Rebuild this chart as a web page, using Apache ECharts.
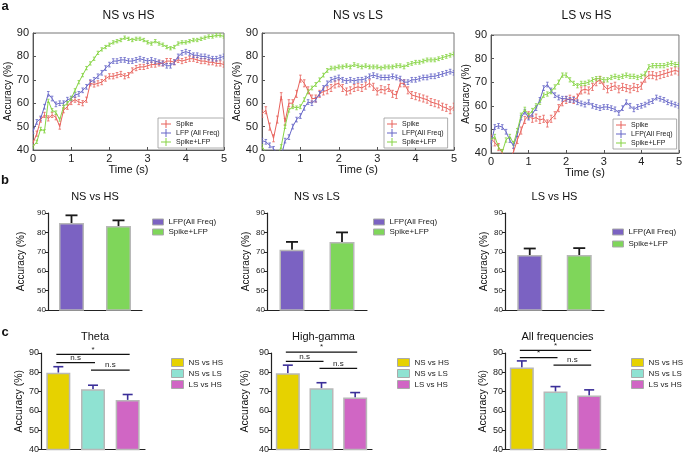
<!DOCTYPE html>
<html>
<head>
<meta charset="utf-8">
<script src="https://cdn.jsdelivr.net/npm/echarts@6/dist/echarts.min.js"></script>
<style>html,body{margin:0;padding:0;background:#fff}#main{width:685px;height:454px}</style>
</head>
<body>
<div id="main"></div>
<script>
// time axis (s)
var timeS = [0,0.1,0.2,0.3,0.4,0.5,0.6,0.7,0.8,0.9,
  1,1.1,1.2,1.3,1.4,1.5,1.6,1.7,1.8,1.9,
  2,2.1,2.2,2.3,2.4,2.5,2.6,2.7,2.8,2.9,
  3,3.1,3.2,3.3,3.4,3.5,3.6,3.7,3.8,3.9,
  4,4.1,4.2,4.3,4.4,4.5,4.6,4.7,4.8,4.9,5];

// a: NS vs HS
var a1Spike = [43,47,53,55,53.5,55,54,50,57,58.5,
  60.5,61.5,60.5,60,61.5,68.5,68,68.5,69,70.5,
  71.5,71.5,72,72.5,71.5,72,74,75,75.5,75.5,
  76,76.5,76.5,77,77,78,78,77.5,78.5,78,
  78.5,79,79,78.5,78,78,77.5,77.5,77,77,76.5];
var a1Lfp = [48,52,53.5,58.5,64,62,59.5,60,60,61.5,
  62,63.5,64,65.5,67,69,70,71.5,73,75,
  76.5,78,78,78.5,78.5,78,78,78.5,79,78.5,
  78,78.5,78,77.5,77,76,76,77.5,80,81.5,
  82,81.5,80.5,80.5,80,80,79.5,79,79,79.5,80];
var a1Combo = [41.5,43.5,49,48,61,57,56,53,58.5,60,
  62,65.5,69,72,75,77,79,81.5,83,84,
  85,86,86.5,87,88,87.5,87,87.5,87.5,87,
  86,85.5,86.5,85.5,85,84,83.5,84,85.5,86,
  86,86.5,87,87,87.5,88,88.5,88.5,89,89,88.5];
// a: NS vs LS
var a2Spike = [55.5,57,50,45,53,63,52,60,60,64,
  70.5,68.5,65.5,62,62,64,65,65.5,66.5,68,
  68.5,66.5,65,65.5,66.5,67,66.5,67.5,68.5,67,
  65,66,65.5,66.5,64,63.5,68.5,68.5,65.5,63.5,
  63,62.5,62,61.5,60.5,60,59.5,58.5,58,57,58.5];
var a2Lfp = [44,43.5,42,40.5,38.5,37,44,45.5,50,53,
  54.5,58,60.5,60,61.5,64,66.5,68.5,70,70.5,
  71,70,69.5,70,69.5,70,70,70.5,71.5,72,
  71.5,71,71,71,71.5,71,70.5,69,69,70,
  70,70.5,71,71,71.5,71.5,72,72.5,73,73.5,73];
var a2Combo = [41.5,39,37,36,37,41.5,50,57,58.5,58,
  58.5,61.5,65,66.5,68,70,72,74,75,75,
  75.5,75.5,76,75.5,76.5,76,75.5,76,75.5,75.5,
  75.5,75,75.5,75.5,75.5,76,76,75.5,76.5,77,
  77.5,77.5,78,78.5,78.5,78.5,79,79.5,80,80.5,81];
// a: LS vs HS
var a3Spike = [46,44.5,42.5,40,37,38,40.5,45.5,49.5,54,
  56,54.5,55,54,54.5,52.5,54.5,56,59,61.5,
  62.5,63,62.5,63.5,66.5,67,66.5,68,70,71,
  68.5,67,68,68.5,67,68,67.5,67,68,67.5,
  68.5,71.5,73,73,72.5,73,73.5,74,74.5,75,74.5];
var a3Lfp = [44,51,51.5,51,49,45.5,43,48,55,57.5,
  55,56.5,59,62.5,67.5,69,66.5,64.5,63.5,63,
  63,62.5,62.5,61.5,61,60.5,61.5,60,59.5,59,
  59.5,59.5,59,58.5,57,59,61.5,60,58.5,59.5,
  60,60.5,61.5,62,63.5,63,62.5,61.5,61,60.5,60];
var a3Combo = [45.5,47,42.5,40.5,45.5,47,44,49.5,56,58.5,
  56,58,60,61.5,64.5,65,66,68,70,73,
  73,71,69.5,68.5,69.5,69.5,70,71,71.5,71.5,
  71,71,72,72.5,72,72.5,73,72.5,72.5,72,
  72.5,73.5,76.5,77,77,77,77,77.5,78,77.5,77.5];
// error half-width per series: spike, lfp, spike+lfp
var semA1 = [1.1, 1.0, 0.7];
var semA2 = [1.5, 1.0, 0.8];
var semA3 = [1.5, 1.0, 0.9];

// b: mean accuracy (NS vs HS, NS vs LS, LS vs HS)
var bLfp = [84.8, 71, 68.3];
var bLfpErr = [4, 4.1, 3.4];
var bCombo = [83.3, 75.1, 68.3];
var bComboErr = [2.9, 4.9, 3.6];

// c: Theta, High-gamma, All frequencies
var cNsHs = [79.8, 79.5, 82.5];
var cNsHsErr = [3.1, 4.2, 3.4];
var cNsLs = [71.2, 71.7, 70];
var cNsLsErr = [2.1, 2.9, 2.6];
var cLsHs = [65.7, 66.9, 68];
var cLsHsErr = [2.8, 2.6, 2.9];
// significance pairs [from, to, level]
var cSigPairs = [
  [[0,2,89.3],[0,1,85],[1,2,81.1]],
  [[0,2,90.5],[0,1,85.7],[1,2,82]],
  [[0,2,91.4],[0,1,87.6],[1,2,83.7]]
];
var cSigLabels = [['*','n.s','n.s'],['*','n.s','n.s'],['*','*','n.s']];

var FONT = 'Liberation Sans, Arial, sans-serif';
var colSpike = '#e8625c', colLfp = '#6767c8', colCombo = '#86d444';
var colBarLfp = '#7b62c2', colBarCombo = '#7fd65a';
var colNsHs = '#e6d200', colNsLs = '#8fe2d2', colLsHs = '#d066c4';
var crossIcon = 'path://M0,4.5h10v1h-10zM4.5,1h1v8h-1z';

var grids = [], xAxes = [], yAxes = [], series = [], legends = [], graphics = [];

function errRender(params, api) {
  var x = api.value(0), y = api.value(1), e = api.value(2);
  var hi = api.coord([x, y + e]), lo = api.coord([x, y - e]);
  var c = api.visual('color');
  return {type: 'group', children: [
    {type: 'line', shape: {x1: hi[0], y1: hi[1], x2: lo[0], y2: lo[1]}, style: {stroke: c, lineWidth: 0.8}},
    {type: 'line', shape: {x1: hi[0] - 1.3, y1: hi[1], x2: hi[0] + 1.3, y2: hi[1]}, style: {stroke: c, lineWidth: 0.8}},
    {type: 'line', shape: {x1: lo[0] - 1.3, y1: lo[1], x2: lo[0] + 1.3, y2: lo[1]}, style: {stroke: c, lineWidth: 0.8}}
  ]};
}
function capRender(capW, lw) {
  return function (params, api) {
    var base = api.coord([api.value(0), api.value(1)]);
    var top = api.coord([api.value(0), api.value(1) + api.value(2)]);
    var c = api.visual('color');
    return {type: 'group', children: [
      {type: 'line', shape: {x1: base[0], y1: base[1], x2: top[0], y2: top[1]}, style: {stroke: c, lineWidth: lw}},
      {type: 'line', shape: {x1: top[0] - capW / 2, y1: top[1], x2: top[0] + capW / 2, y2: top[1]}, style: {stroke: c, lineWidth: lw}}
    ]};
  };
}
function sigRender(labels) {
  return function (params, api) {
    var a = api.coord([api.value(0), api.value(2)]);
    var b = api.coord([api.value(1), api.value(2)]);
    return {type: 'group', children: [
      {type: 'line', shape: {x1: a[0] - 2, y1: a[1], x2: b[0] + 2, y2: b[1]}, style: {stroke: '#111', lineWidth: 1.3}},
      {type: 'text', x: (a[0] + b[0]) / 2, y: a[1] - 1,
        style: {text: labels[params.dataIndex], align: 'center', verticalAlign: 'bottom', font: '8px ' + FONT, fill: '#222'}}
    ]};
  };
}
function label(text, x, y, size, bold) {
  graphics.push({type: 'text', x: x, y: y, style: {text: text, align: 'center', verticalAlign: 'middle',
    font: (bold ? 'bold ' : '') + size + 'px ' + FONT, fill: '#111'}});
}

// ---- row a: time courses
var aGrid = [{left: 33, top: 33, width: 191, height: 117}, {left: 262, top: 33, width: 192, height: 117}, {left: 491, top: 35, width: 191, height: 118}];
var aTitle = ['NS vs HS', 'NS vs LS', 'LS vs HS'];
var aData = [[a1Spike, a1Lfp, a1Combo], [a2Spike, a2Lfp, a2Combo], [a3Spike, a3Lfp, a3Combo]];
var aSem = [semA1, semA2, semA3];
var aNames = [['Spike', 'LFP (All Freq)', 'Spike+LFP'], ['Spike', 'LFP(All Freq)', 'Spike+LFP'], ['Spike', 'LFP(All Freq)', 'Spike+LFP']];
var aColors = [colSpike, colLfp, colCombo];
var aLegendPos = [[158, 118], [384, 118], [613, 119]];

aGrid.forEach(function (g, i) {
  grids.push({left: g.left, top: g.top, width: g.width, height: g.height, show: true, borderColor: '#777', borderWidth: 1});
  xAxes.push({gridIndex: i, type: 'value', min: 0, max: 5, interval: 1,
    name: 'Time (s)', nameLocation: 'middle', nameGap: 11, nameTextStyle: {fontSize: 11, color: '#111', fontFamily: FONT},
    axisLine: {lineStyle: {color: '#555'}}, axisTick: {inside: true, length: 3},
    axisLabel: {fontSize: 11, color: '#222', margin: 3, fontFamily: FONT}, splitLine: {show: false}});
  yAxes.push({gridIndex: i, type: 'value', min: 40, max: 90, interval: 10,
    name: 'Accuracy (%)', nameLocation: 'middle', nameGap: 17, nameTextStyle: {fontSize: 10, color: '#111', fontFamily: FONT},
    axisLine: {show: true, lineStyle: {color: '#555'}}, axisTick: {inside: true, length: 3},
    axisLabel: {fontSize: 11, color: '#222', margin: 4, fontFamily: FONT}, splitLine: {show: false}});
  aData[i].forEach(function (vals, k) {
    var pts = timeS.map(function (t, j) { return [t, vals[j]]; });
    var errPts = timeS.map(function (t, j) { return [t, vals[j], aSem[i][k]]; });
    series.push({type: 'custom', xAxisIndex: i, yAxisIndex: i, data: errPts, renderItem: errRender,
      itemStyle: {color: aColors[k]}, clip: true, z: 2, encode: {x: 0, y: 1}});
    series.push({name: aNames[i][k], type: 'line', xAxisIndex: i, yAxisIndex: i, data: pts,
      showSymbol: false, clip: true, z: 3, lineStyle: {width: 1, color: aColors[k]}, itemStyle: {color: aColors[k]}});
  });
  legends.push({orient: 'vertical', left: aLegendPos[i][0], top: aLegendPos[i][1], backgroundColor: '#fff',
    borderColor: '#999', borderWidth: 0.8, padding: [2, 4, 2, 3], itemGap: 1, itemWidth: 10, itemHeight: 8,
    textStyle: {fontSize: 7, color: '#222', fontFamily: FONT},
    data: aNames[i].map(function (n, k) { return {name: n, icon: crossIcon, itemStyle: {color: aColors[k]}}; })});
  label(aTitle[i], g.left + g.width / 2, 16, 12, false);
});

// ---- row b: bar comparison
var bGrid = [{left: 48, width: 94}, {left: 267, width: 100}, {left: 505, width: 99}];
var bLegendPos = [[147, 213], [368, 213], [607, 223]];
var bGap = [2, 2, 4];
bGrid.forEach(function (g, j) {
  var i = 3 + j;
  grids.push({left: g.left, top: 213, width: g.width, height: 97});
  xAxes.push({gridIndex: i, type: 'category', data: ['LFP(All Freq)', 'Spike+LFP'],
    axisLine: {lineStyle: {color: '#222', width: 1.2}}, axisTick: {show: false}, axisLabel: {show: false}});
  yAxes.push({gridIndex: i, type: 'value', min: 40, max: 90, interval: 10,
    name: 'Accuracy (%)', nameLocation: 'middle', nameGap: j === 0 ? 22 : 16, nameTextStyle: {fontSize: 10, color: '#111', fontFamily: FONT},
    axisLine: {show: true, lineStyle: {color: '#222', width: 1.2}}, axisTick: {show: true, length: 3},
    axisLabel: {fontSize: 8, color: '#222', margin: 2, fontFamily: FONT}, splitLine: {show: false}});
  series.push({name: 'LFP(All Freq)', type: 'bar', xAxisIndex: i, yAxisIndex: i, data: [bLfp[j], '-'],
    barWidth: 25, barGap: '-100%', itemStyle: {color: colBarLfp, borderColor: '#b8b8b8', borderWidth: 1.5}});
  series.push({name: 'Spike+LFP', type: 'bar', xAxisIndex: i, yAxisIndex: i, data: ['-', bCombo[j]],
    barWidth: 25, barGap: '-100%', itemStyle: {color: colBarCombo, borderColor: '#b8b8b8', borderWidth: 1.5}});
  series.push({type: 'custom', xAxisIndex: i, yAxisIndex: i, renderItem: capRender(12, 1.8), clip: false, z: 1,
    itemStyle: {color: '#1a1a1a'}, encode: {x: 0, y: 1},
    data: [[0, bLfp[j], bLfpErr[j]], [1, bCombo[j], bComboErr[j]]]});
  legends.push({orient: 'vertical', left: bLegendPos[j][0], top: bLegendPos[j][1], itemGap: bGap[j],
    itemWidth: 11, itemHeight: 6, textStyle: {fontSize: 8, color: '#222', fontFamily: FONT},
    data: [{name: 'LFP(All Freq)', icon: 'rect', itemStyle: {color: colBarLfp, borderColor: '#aaa', borderWidth: 1}},
           {name: 'Spike+LFP', icon: 'rect', itemStyle: {color: colBarCombo, borderColor: '#aaa', borderWidth: 1}}]});
  label(aTitle[j], g.left + g.width / 2, 197, 11, false);
});

// ---- row c: frequency bands
var cGrid = [{left: 41, width: 104, gap: 13}, {left: 271, width: 101, gap: 20}, {left: 505, width: 101, gap: 16}];
var cTitle = ['Theta', 'High-gamma', 'All frequencies'];
var cLegendPos = [[166, 353], [392, 353], [626, 353]];
var cNames = ['NS vs HS', 'NS vs LS', 'LS vs HS'];
var cColors = [colNsHs, colNsLs, colLsHs];
cGrid.forEach(function (g, j) {
  var i = 6 + j;
  var vals = [cNsHs[j], cNsLs[j], cLsHs[j]];
  var errs = [cNsHsErr[j], cNsLsErr[j], cLsHsErr[j]];
  grids.push({left: g.left, top: 353, width: g.width, height: 97});
  xAxes.push({gridIndex: i, type: 'category', data: cNames,
    axisLine: {lineStyle: {color: '#222', width: 1.2}}, axisTick: {show: false}, axisLabel: {show: false}});
  yAxes.push({gridIndex: i, type: 'value', min: 40, max: 90, interval: 10,
    name: 'Accuracy (%)', nameLocation: 'middle', nameGap: g.gap, nameTextStyle: {fontSize: 10.5, color: '#111', fontFamily: FONT},
    axisLine: {show: true, lineStyle: {color: '#222', width: 1.2}}, axisTick: {show: true, length: 3},
    axisLabel: {fontSize: 9, color: '#222', margin: 2, fontFamily: FONT}, splitLine: {show: false}});
  cNames.forEach(function (n, k) {
    var d = ['-', '-', '-'];
    d[k] = vals[k];
    series.push({name: n, type: 'bar', xAxisIndex: i, yAxisIndex: i, data: d, barWidth: 24, barGap: '-100%',
      itemStyle: {color: cColors[k], borderColor: '#b8b8b8', borderWidth: 1.5}});
  });
  series.push({type: 'custom', xAxisIndex: i, yAxisIndex: i, renderItem: capRender(10, 1.6), clip: false, z: 1,
    itemStyle: {color: '#3b2f99'}, encode: {x: 0, y: 1},
    data: vals.map(function (v, k) { return [k, v, errs[k]]; })});
  series.push({type: 'custom', xAxisIndex: i, yAxisIndex: i, renderItem: sigRender(cSigLabels[j]), clip: false, z: 4,
    encode: {x: [0, 1], y: 2}, data: cSigPairs[j]});
  legends.push({orient: 'vertical', left: cLegendPos[j][0], top: cLegendPos[j][1], itemGap: 2,
    itemWidth: 12, itemHeight: 8, textStyle: {fontSize: 8, color: '#222', fontFamily: FONT},
    data: cNames.map(function (n, k) { return {name: n, icon: 'rect', itemStyle: {color: cColors[k], borderColor: '#aaa', borderWidth: 1}}; })});
  label(cTitle[j], g.left + g.width / 2 + 2, 337, 11, false);
});

label('a', 5, 6, 13, true);
label('b', 5, 180, 13, true);
label('c', 5, 332, 13, true);

var myChart = echarts.init(document.getElementById('main'));
myChart.setOption({
  animation: false,
  backgroundColor: '#fff',
  textStyle: {fontFamily: FONT},
  grid: grids,
  xAxis: xAxes,
  yAxis: yAxes,
  legend: legends,
  series: series,
  graphic: graphics
});
</script>
</body>
</html>
